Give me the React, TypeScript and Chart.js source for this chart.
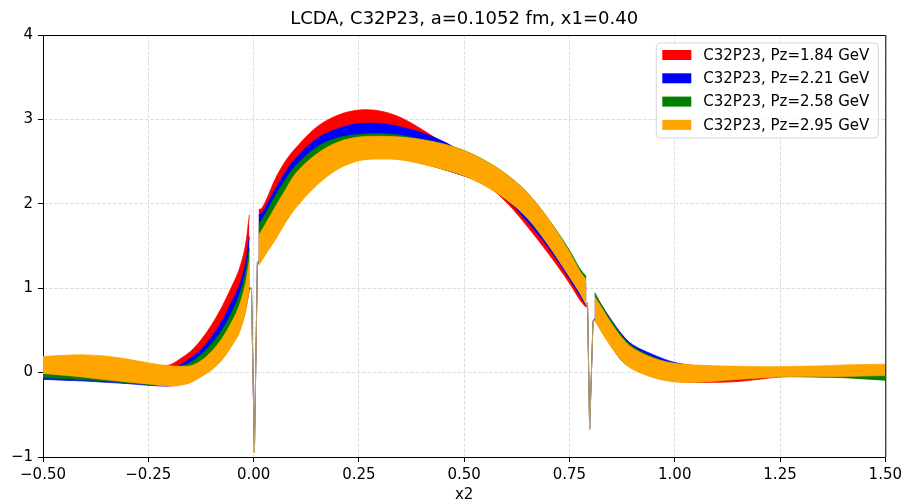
import React, { useEffect, useRef } from "react";
import { Chart, registerables } from "chart.js";

Chart.register(...registerables);

const TITLE = "LCDA, C32P23, a=0.1052 fm, x1=0.40";
const X_LABEL = "x2";
const X_TICKS = [-0.5, -0.25, 0, 0.25, 0.5, 0.75, 1.0, 1.25, 1.5];
const Y_TICKS = [-1, 0, 1, 2, 3, 4];

const LABELS = [
  "C32P23, Pz=1.84 GeV",
  "C32P23, Pz=2.21 GeV",
  "C32P23, Pz=2.58 GeV",
  "C32P23, Pz=2.95 GeV",
];
const COLORS = ["red", "blue", "green", "orange"];
const SPIKE_COLORS = [
  "rgba(255,0,0,0.6)",
  "rgba(0,0,255,0.6)",
  "rgba(0,128,0,0.6)",
  "rgba(210,170,110,0.9)",
];

const xs = [
  -0.5, -0.45, -0.4, -0.35, -0.3, -0.25, -0.2, -0.175, -0.15, -0.125,
  -0.1, -0.075, -0.05, -0.035, -0.02, -0.01, -0.005, 0.002, 0.009, 0.012,
  0.02, 0.035, 0.05, 0.075, 0.1, 0.15, 0.2, 0.25, 0.3, 0.35,
  0.4, 0.45, 0.5, 0.55, 0.6, 0.65, 0.7, 0.75, 0.775, 0.79,
  0.793, 0.798, 0.806, 0.81, 0.825, 0.85, 0.875, 0.9, 0.95, 1.0,
  1.05, 1.1, 1.15, 1.2, 1.25, 1.3, 1.35, 1.4, 1.45, 1.5,
];

// index ranges of the three continuous pieces and the two narrow dips
const LEFT_PIECE = [0, 15];
const DIP_A = [16, 18];
const MID_PIECE = [19, 39];
const DIP_B = [40, 42];
const RIGHT_PIECE = [43, 59];

const redUpper = [
  0.12, 0.13, 0.13, 0.11, 0.08, 0.06, 0.09, 0.16, 0.25, 0.385,
  0.563, 0.78, 1.04, 1.21, 1.49, 1.87, 1.0, -0.95, 1.3, 1.93,
  1.95, 2.1, 2.28, 2.5, 2.66, 2.91, 3.05, 3.11, 3.1, 3.02,
  2.88, 2.72, 2.55, 2.4, 2.22, 2.0, 1.7, 1.3, 1.1, 1.0,
  0.8, -0.66, 0.6, 0.85, 0.72, 0.52, 0.36, 0.25, 0.13, 0.07,
  0.05, 0.04, 0.04, 0.04, 0.04, 0.04, 0.04, 0.05, 0.05, 0.05,
];
const redLower = [
  0.0, -0.02, -0.04, -0.07, -0.09, -0.12, -0.14, -0.13, -0.1, -0.03,
  0.05, 0.17, 0.36, 0.5, 0.74, 1.0, 0.99, -0.96, 1.28, 1.33,
  1.38, 1.5, 1.62, 1.82, 2.0, 2.26, 2.44, 2.55, 2.56, 2.54,
  2.48, 2.41, 2.33, 2.23, 2.02, 1.73, 1.41, 1.06, 0.86, 0.77,
  0.78, -0.68, 0.58, 0.63, 0.51, 0.31, 0.14, 0.05, -0.05, -0.1,
  -0.115, -0.115, -0.105, -0.08, -0.05, -0.04, -0.04, -0.04, -0.035, -0.03,
];

const blueUpper = [
  0.12, 0.13, 0.13, 0.11, 0.08, 0.05, 0.05, 0.09, 0.17, 0.275,
  0.42, 0.61, 0.86, 1.02, 1.27, 1.61, 1.0, -0.95, 1.3, 1.87,
  1.89, 2.02, 2.16, 2.37, 2.54, 2.77, 2.89, 2.95, 2.95, 2.91,
  2.84, 2.74, 2.6, 2.45, 2.27, 2.05, 1.74, 1.35, 1.15, 1.05,
  0.8, -0.67, 0.6, 0.93, 0.81, 0.62, 0.45, 0.33, 0.21, 0.12,
  0.08, 0.06, 0.05, 0.05, 0.05, 0.05, 0.05, 0.06, 0.06, 0.06,
];
const blueLower = [
  -0.08, -0.09, -0.1, -0.115, -0.13, -0.15, -0.16, -0.14, -0.1, -0.03,
  0.05, 0.17, 0.36, 0.5, 0.74, 1.0, 0.99, -0.96, 1.28, 1.3,
  1.36, 1.48, 1.6, 1.8, 1.98, 2.25, 2.43, 2.53, 2.55, 2.53,
  2.48, 2.41, 2.33, 2.23, 2.05, 1.79, 1.48, 1.11, 0.91, 0.79,
  0.79, -0.69, 0.58, 0.64, 0.52, 0.32, 0.15, 0.06, -0.04, -0.09,
  -0.1, -0.09, -0.07, -0.06, -0.045, -0.04, -0.04, -0.04, -0.035, -0.03,
];

const greenUpper = [
  0.14, 0.15, 0.15, 0.13, 0.1, 0.07, 0.05, 0.07, 0.12, 0.21,
  0.34, 0.5, 0.73, 0.9, 1.16, 1.47, 1.0, -0.95, 1.3, 1.77,
  1.81, 1.94, 2.08, 2.28, 2.45, 2.67, 2.78, 2.82, 2.83, 2.81,
  2.76, 2.71, 2.63, 2.51, 2.35, 2.13, 1.82, 1.45, 1.23, 1.14,
  0.83, -0.67, 0.62, 0.95, 0.81, 0.61, 0.43, 0.31, 0.18, 0.1,
  0.08, 0.07, 0.06, 0.06, 0.06, 0.06, 0.06, 0.06, 0.06, 0.06,
];
const greenLower = [
  -0.06, -0.07, -0.085, -0.1, -0.12, -0.14, -0.15, -0.14, -0.11, -0.04,
  0.04, 0.16, 0.35, 0.48, 0.72, 0.99, 0.985, -0.96, 1.28, 1.29,
  1.35, 1.47, 1.58, 1.79, 1.97, 2.24, 2.42, 2.52, 2.54, 2.53,
  2.48, 2.41, 2.34, 2.23, 2.07, 1.84, 1.52, 1.14, 0.95, 0.81,
  0.81, -0.69, 0.59, 0.63, 0.51, 0.31, 0.14, 0.05, -0.05, -0.1,
  -0.11, -0.095, -0.075, -0.06, -0.05, -0.05, -0.055, -0.06, -0.075, -0.09,
];

const orangeUpper = [
  0.19, 0.205, 0.21, 0.195, 0.16, 0.115, 0.08, 0.075, 0.08, 0.14,
  0.25, 0.405, 0.62, 0.78, 1.04, 1.33, 1.0, -0.95, 1.3, 1.63,
  1.69, 1.82, 1.95, 2.16, 2.36, 2.59, 2.73, 2.79, 2.8, 2.79,
  2.76, 2.71, 2.63, 2.51, 2.35, 2.13, 1.82, 1.43, 1.2, 1.1,
  0.82, -0.68, 0.6, 0.9, 0.78, 0.58, 0.41, 0.29, 0.17, 0.11,
  0.09, 0.08, 0.075, 0.07, 0.07, 0.075, 0.08, 0.09, 0.095, 0.1,
];
const orangeLower = [
  -0.01, -0.03, -0.055, -0.085, -0.11, -0.135, -0.16, -0.15, -0.12, -0.05,
  0.03, 0.15, 0.33, 0.46, 0.7, 0.98, 0.98, -0.97, 1.27, 1.27,
  1.33, 1.45, 1.56, 1.77, 1.95, 2.22, 2.41, 2.51, 2.53, 2.52,
  2.47, 2.41, 2.33, 2.21, 2.05, 1.83, 1.51, 1.135, 0.94, 0.8,
  0.8, -0.7, 0.58, 0.62, 0.49, 0.3, 0.14, 0.04, -0.06, -0.11,
  -0.115, -0.1, -0.08, -0.065, -0.05, -0.045, -0.045, -0.045, -0.04, -0.035,
];

const UPPERS = [redUpper, blueUpper, greenUpper, orangeUpper];
const LOWERS = [redLower, blueLower, greenLower, orangeLower];

const FONT = "'DejaVu Sans', 'Liberation Sans', sans-serif";
const minus = (s: string) => s.replace("-", "\u2212");

const decorPlugin = {
  id: "decor",
  afterDraw(chart: any) {
    const { ctx, chartArea } = chart;
    const { left, right, top, bottom } = chartArea;
    ctx.save();
    ctx.strokeStyle = "#000";
    ctx.lineWidth = 1;
    ctx.beginPath();
    ctx.moveTo(left, top + 0.5);
    ctx.lineTo(right, top + 0.5);
    ctx.moveTo(right + 0.5, top);
    ctx.lineTo(right + 0.5, bottom);
    ctx.stroke();

    ctx.fillStyle = "#000";
    ctx.font = `18px ${FONT}`;
    ctx.textAlign = "center";
    ctx.textBaseline = "alphabetic";
    ctx.fillText(TITLE, (left + right) / 2, 24);

    ctx.font = `15px ${FONT}`;
    ctx.fillText(X_LABEL, (left + right) / 2, 499);

    const bx = right - 229;
    const by = top + 8;
    const bw = 222;
    const bh = 95;
    const r = 4;
    ctx.beginPath();
    ctx.moveTo(bx + r, by);
    ctx.lineTo(bx + bw - r, by);
    ctx.arcTo(bx + bw, by, bx + bw, by + r, r);
    ctx.lineTo(bx + bw, by + bh - r);
    ctx.arcTo(bx + bw, by + bh, bx + bw - r, by + bh, r);
    ctx.lineTo(bx + r, by + bh);
    ctx.arcTo(bx, by + bh, bx, by + bh - r, r);
    ctx.lineTo(bx, by + r);
    ctx.arcTo(bx, by, bx + r, by, r);
    ctx.closePath();
    ctx.fillStyle = "rgba(255,255,255,0.8)";
    ctx.fill();
    ctx.strokeStyle = "#d6d6d6";
    ctx.lineWidth = 1;
    ctx.stroke();

    ctx.textAlign = "left";
    ctx.textBaseline = "middle";
    ctx.font = `15px ${FONT}`;
    LABELS.forEach((lab, i) => {
      const cy = by + 12 + i * 23.3;
      ctx.fillStyle = COLORS[i];
      ctx.fillRect(bx + 6, cy - 5, 29, 10);
      ctx.fillStyle = "#000";
      ctx.fillText(lab, bx + 47, cy + 1);
    });
    ctx.restore();
  },
};

function pts(arr: number[], range: number[]) {
  const out: { x: number; y: number }[] = [];
  for (let i = range[0]; i <= range[1]; i++) out.push({ x: xs[i], y: arr[i] });
  return out;
}

export default function App() {
  const ref = useRef<HTMLCanvasElement | null>(null);

  useEffect(() => {
    if (!ref.current) return;
    const datasets: any[] = [];
    // the first datasets are drawn last (on top): orange first, red last
    for (let k = 3; k >= 0; k--) {
      const c = COLORS[k];
      for (const piece of [LEFT_PIECE, MID_PIECE, RIGHT_PIECE]) {
        datasets.push({
          label: LABELS[k],
          data: pts(UPPERS[k], piece),
          borderColor: c,
          backgroundColor: c,
          borderWidth: 0.8,
          pointRadius: 0,
          fill: "+1",
          tension: 0.35,
        });
        datasets.push({
          label: LABELS[k] + " lower",
          data: pts(LOWERS[k], piece),
          borderColor: c,
          backgroundColor: c,
          borderWidth: 0.8,
          pointRadius: 0,
          fill: false,
          tension: 0.35,
        });
      }
      for (const dip of [DIP_A, DIP_B]) {
        const d = [dip[0] - 1, dip[1] + 1];
        const data = pts(UPPERS[k], dip);
        data.unshift({ x: xs[d[0]], y: LOWERS[k][d[0]] });
        data.push({ x: xs[d[1]], y: LOWERS[k][d[1]] });
        datasets.push({
          label: LABELS[k] + " dip",
          data,
          borderColor: SPIKE_COLORS[k],
          borderWidth: 1,
          pointRadius: 0,
          fill: false,
          tension: 0,
        });
      }
    }

    const gridCommon = {
      color: "rgba(176,176,176,0.5)",
      lineWidth: 0.8,
      tickLength: 5,
      tickColor: "#000",
      tickWidth: 1,
      tickBorderDash: [],
    };
    const borderCommon = { color: "#000", width: 1, dash: [3.7, 1.6] };

    const chart = new Chart(ref.current, {
      type: "line",
      data: { datasets },
      options: {
        animation: false,
        responsive: false,
        events: [],
        layout: { padding: { top: 35, right: 16, left: 0, bottom: 0 } },
        plugins: {
          legend: { display: false },
          title: { display: false },
          tooltip: { enabled: false },
        },
        scales: {
          x: {
            type: "linear",
            min: -0.5,
            max: 1.5,
            z: 1,
            afterFit: (s: any) => {
              s.height = 46;
            },
            afterBuildTicks: (s: any) => {
              s.ticks = X_TICKS.map((v) => ({ value: v }));
            },
            ticks: {
              font: { family: FONT, size: 15 },
              color: "#000",
              padding: 4,
              maxRotation: 0,
              autoSkip: false,
              callback: (v: any) => minus(Number(v).toFixed(2)),
            },
            grid: gridCommon,
            border: borderCommon,
          },
          y: {
            type: "linear",
            min: -1,
            max: 4,
            z: 1,
            afterFit: (s: any) => {
              s.width = 43;
            },
            afterBuildTicks: (s: any) => {
              s.ticks = Y_TICKS.map((v) => ({ value: v }));
            },
            ticks: {
              font: { family: FONT, size: 15 },
              color: "#000",
              padding: 5,
              autoSkip: false,
              callback: (v: any) => minus(String(v)),
            },
            grid: gridCommon,
            border: borderCommon,
          },
        },
      },
      plugins: [decorPlugin],
    });
    return () => chart.destroy();
  }, []);

  return (
    <div
      style={{
        position: "fixed",
        left: 0,
        top: 0,
        width: 906,
        height: 503,
        background: "#fff",
      }}
    >
      <canvas ref={ref} width={906} height={503} style={{ display: "block" }} />
    </div>
  );
}
